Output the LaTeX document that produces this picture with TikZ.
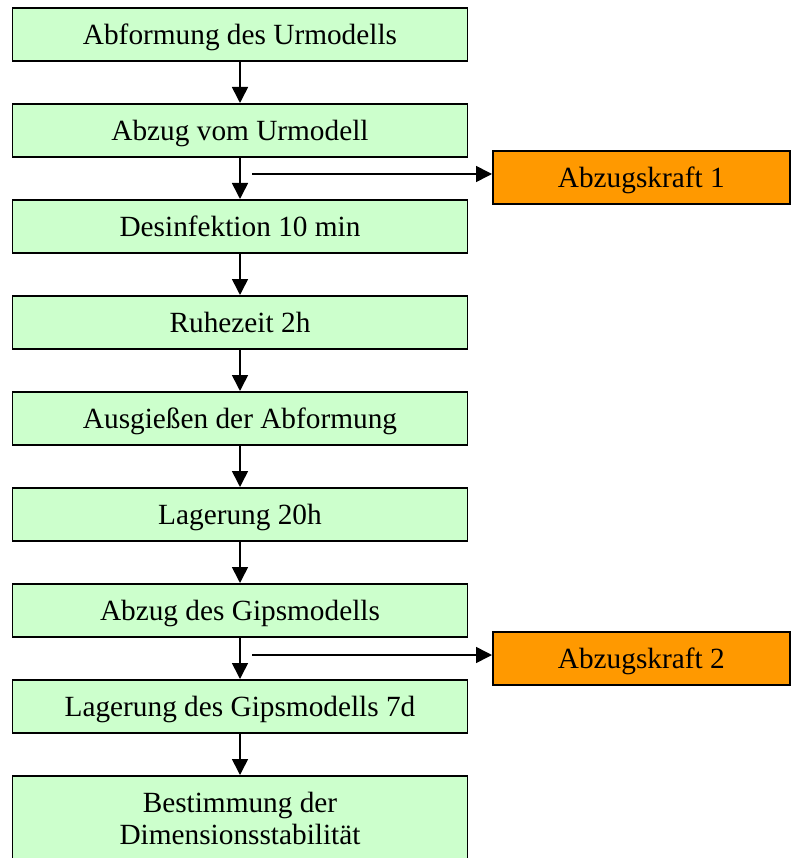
\documentclass[tikz,border=0pt]{standalone}
\usepackage{fontspec}
\setmainfont{Liberation Serif}
\usetikzlibrary{arrows.meta}
\definecolor{boxgreen}{HTML}{CCFFCC}
\definecolor{boxorange}{HTML}{FF9900}
\begin{document}
\begin{tikzpicture}[x=1pt,y=-1pt,
  every node/.style={font=\fontsize{29.3}{32}\selectfont},
  stepbox/.style={draw=black,line width=1.6pt,fill=boxgreen,minimum width=455pt,minimum height=53pt,inner sep=0pt,anchor=north,align=center,text height=20pt,text depth=0pt},
  forcebox/.style={draw=black,line width=1.6pt,fill=boxorange,minimum width=297pt,minimum height=53pt,inner sep=0pt,anchor=north west,text height=20pt,text depth=0pt},
  arr/.style={line width=1.6pt,-{Triangle[length=16pt,width=16pt]}}]
\useasboundingbox (0,0) rectangle (791,858);
\node[stepbox] (s1) at (240,7) {Abformung des Urmodells};
\node[stepbox] (s2) at (240,103) {Abzug vom Urmodell};
\node[stepbox] (s3) at (240,199) {Desinfektion 10 min};
\node[stepbox] (s4) at (240,295) {Ruhezeit 2h};
\node[stepbox] (s5) at (240,391) {Ausgießen der Abformung};
\node[stepbox] (s6) at (240,487) {Lagerung 20h};
\node[stepbox] (s7) at (240,583) {Abzug des Gipsmodells};
\node[stepbox] (s8) at (240,679) {Lagerung des Gipsmodells 7d};
\node[stepbox,minimum height=91pt,text height=52pt,text depth=5pt] (s9) at (240,775) {Bestimmung der\\Dimensionsstabilität};
\node[forcebox] (k1) at (492,150) {Abzugskraft 1};
\node[forcebox] (k2) at (492,631) {Abzugskraft 2};
\foreach \a/\b in {s1/s2,s2/s3,s3/s4,s4/s5,s5/s6,s6/s7,s7/s8,s8/s9}
  \draw[arr] (\a.south) -- (\b.north);
\coordinate (b1) at (252,174);
\coordinate (b2) at (252,655);
\draw[arr] (b1) -- (b1 -| k1.west);
\draw[arr] (b2) -- (b2 -| k2.west);
\end{tikzpicture}
\end{document}
